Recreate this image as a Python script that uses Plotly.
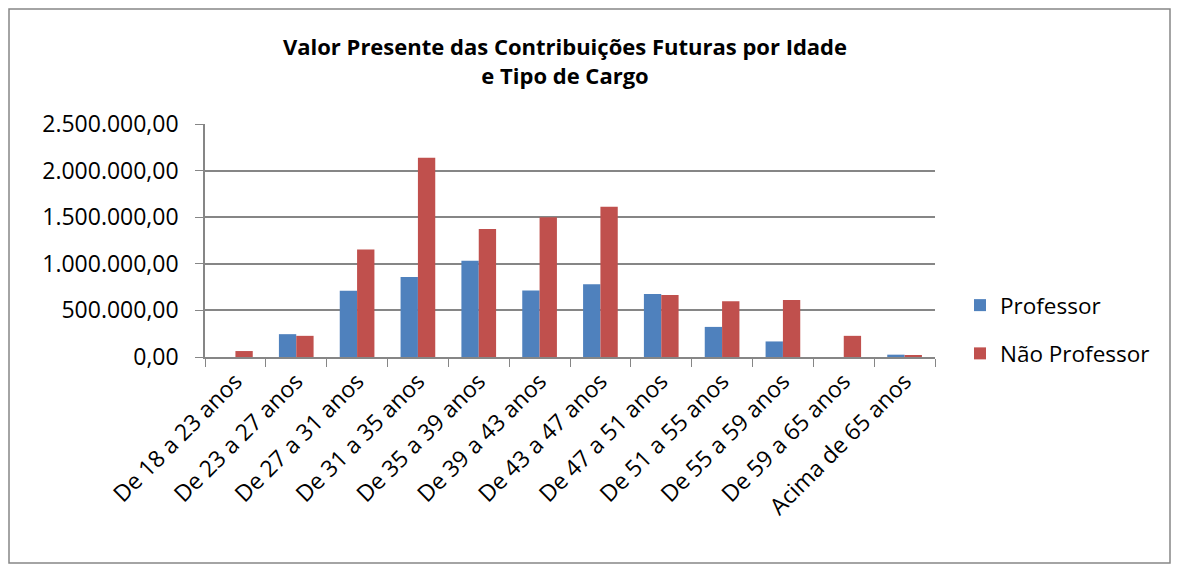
import plotly.graph_objects as go

categories = ["De 18 a 23 anos", "De 23 a 27 anos", "De 27 a 31 anos", "De 31 a 35 anos",
              "De 35 a 39 anos", "De 39 a 43 anos", "De 43 a 47 anos", "De 47 a 51 anos",
              "De 51 a 55 anos", "De 55 a 59 anos", "De 59 a 65 anos", "Acima de 65 anos"]
professor = [0, 245000, 710000, 859000, 1033000, 714000, 781000, 675000, 323000, 167000, 0, 25000]
nao_professor = [64000, 227000, 1154000, 2138000, 1374000, 1499000, 1612000, 664000, 597000, 611000, 227000, 14000]
tick_vals = [0, 500000, 1000000, 1500000, 2000000, 2500000]
tick_text = ["0,00", "500.000,00", "1.000.000,00", "1.500.000,00", "2.000.000,00", "2.500.000,00"]

FONT = "Open Sans"
OFF = 8  # page body margin
W, H = 1179 - OFF, 570 - OFF
L, R, T, B = 205 - OFF, 935 - OFF, 124 - OFF, 357 - OFF

fig = go.Figure()
fig.add_trace(go.Bar(x=categories, y=professor, name="Professor", legendgroup="a",
                     marker=dict(color="#4F81BD", line=dict(width=0))))
fig.add_trace(go.Bar(x=categories, y=nao_professor, name="Não Professor", legendgroup="b",
                     marker=dict(color="#C0504D", line=dict(width=0))))

def px(x):
    return (x - OFF - L) / (R - L)

def py(y):
    return (B - (y - OFF)) / (B - T)

fig.add_shape(type="rect", xref="paper", yref="paper",
              x0=px(9), x1=px(1170), y0=py(563), y1=py(9),
              line=dict(color="#868686", width=1.5), layer="below")

fig.update_layout(
    width=W, height=H,
    margin=dict(l=L, r=W - R, t=T, b=H - B),
    paper_bgcolor="white", plot_bgcolor="white",
    barmode="group", bargap=0.43, bargroupgap=0,
    font=dict(family=FONT, color="black", size=20),
    title=dict(text="<b>Valor Presente das Contribuições Futuras por Idade<br>e Tipo de Cargo</b>",
               x=(565 - OFF) / W, xref="container", xanchor="center",
               y=1 - (55 - OFF) / H, yref="container", yanchor="middle",
               font=dict(family=FONT, size=22, color="black")),
    legend=dict(x=px(960), y=py(284), xanchor="left", yanchor="top",
                font=dict(family=FONT, size=22.5, color="black"),
                traceorder="grouped", tracegroupgap=16, itemwidth=30),
    showlegend=True,
)
fig.update_xaxes(type="category", tickangle=-45, tickson="boundaries", ticks="outside",
                 ticklen=8, tickcolor="#868686", showline=True, linecolor="#868686",
                 linewidth=1.5, showgrid=False, tickfont=dict(family=FONT, size=23))
fig.update_yaxes(range=[0, 2500000], tickvals=tick_vals, ticktext=tick_text,
                 ticks="outside", ticklen=8, tickcolor="#868686", showline=True,
                 linecolor="#868686", linewidth=1.5, showgrid=True, gridcolor="#868686",
                 gridwidth=1.5, zeroline=False, ticklabelstandoff=12,
                 tickfont=dict(family=FONT, size=23))

fig.write_html("out.html")
